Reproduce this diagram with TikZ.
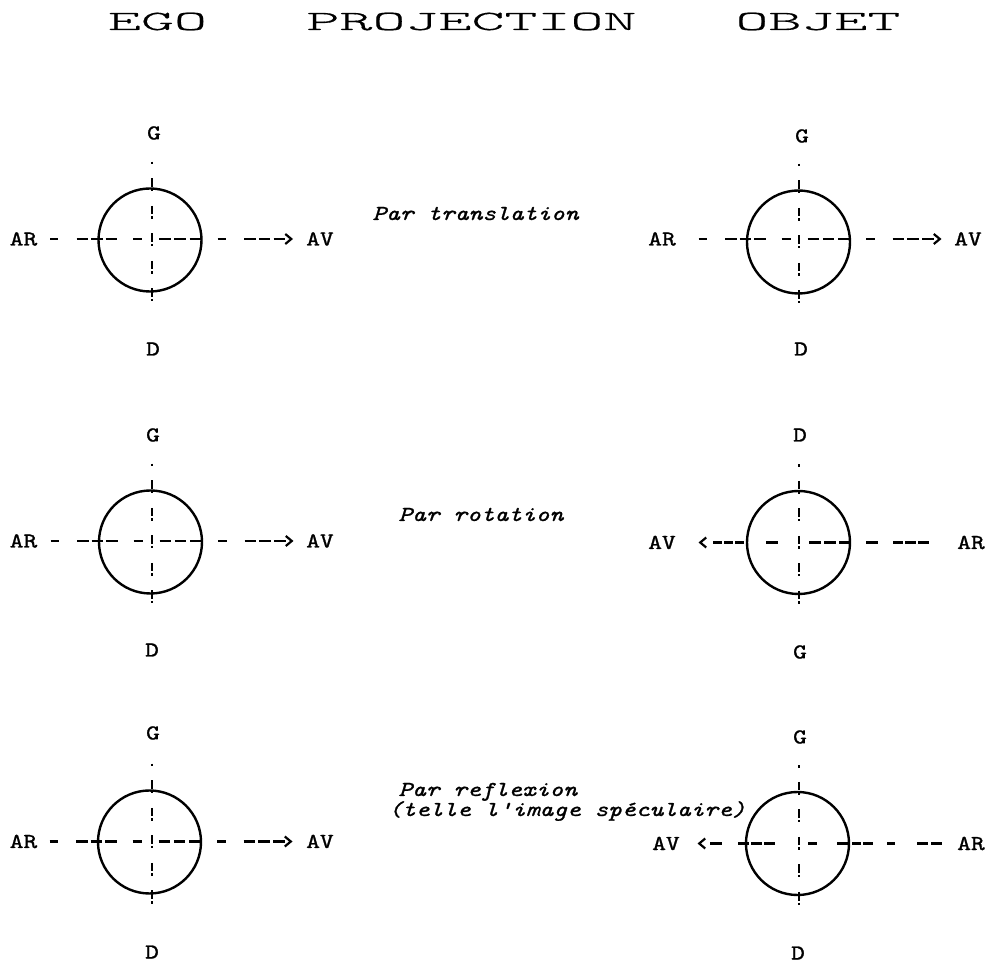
\documentclass[tikz,border=0pt]{standalone}
\usepackage{fontspec}
\usetikzlibrary{arrows.meta}
% typewriter faces: Latin Modern Mono, widened to a square typewriter cell and darkened like a ribbon print
\newfontfamily\typewriter[Extension=.otf, UprightFont=*-regular, ItalicFont=*-italic, FakeStretch=1.23, FakeBold=1.1]{lmmono10}
\newfontfamily\headerfont[Extension=.otf, UprightFont=*-regular, FakeStretch=2.26, FakeBold=0.5]{lmmonolt10}

\tikzset{
  ring/.style={circle, draw, line width=1.2pt, minimum size=51.5pt, inner sep=0pt},
  axislabel/.style={font={\typewriter\fontsize{10.64pt}{12pt}\selectfont}, text height=6.5pt, text depth=0pt, inner sep=0pt},
  caption/.style={font={\typewriter\fontsize{10.64pt}{12pt}\selectfont\itshape}, anchor=base west, inner sep=0pt},
  heading/.style={font={\headerfont\fontsize{13.9pt}{16pt}\selectfont}, anchor=base, inner sep=0pt},
  haxis/.style={line width=1.3pt, -{Straight Barb[length=3pt, width=5pt, line width=1.1pt]}},
  % typed hyphens "- --- -!--- - --->"
  fwdrow/.style={dash pattern=on 4pt off 9.25pt on 5.75pt off 1.5pt on 5.75pt off 1.5pt on 5.75pt off 8pt on 4.5pt off 8.5pt on 5.75pt off 1.875pt on 5.75pt off 1.875pt on 5.75pt off 8.25pt on 4.25pt off 9pt on 5.75pt off 1.625pt on 5.75pt off 1.625pt on 5.75pt off 4pt},
  % typed hyphens "<--- - !--- - ---", read from the right
  rotrow/.style={dash pattern=on 5.25pt off 1.125pt on 5.25pt off 1.125pt on 5.25pt off 7.5pt on 6pt off 7.5pt on 6pt off 1.5pt on 6pt off 1.5pt on 6pt off 15.5pt on 6pt off 11pt on 4.5pt off 1pt on 4.5pt off 1pt on 4.5pt off 7pt},
  % typed hyphens "<- --- !- --- - --", read from the right
  refrow/.style={dash pattern=on 5.5pt off 1.5pt on 5.5pt off 11pt on 4pt off 7pt on 4.75pt off 1pt on 4.75pt off 2pt on 5.5pt off 10pt on 4.5pt off 16.5pt on 5.5pt off 1pt on 5.5pt off 1pt on 5.5pt off 8pt on 6pt off 6pt},
  % a typed "." then five "!" one above the other
  vaxis/.style={line width=1.3pt, dash pattern=on 1.25pt off 7.125pt on 4.25pt off 1pt on 1.25pt off 7.25pt on 4.25pt off 1pt on 1.25pt off 7.25pt on 4.25pt off 1pt on 1.25pt off 7.25pt on 4.25pt off 1pt on 1.25pt off 7.25pt on 4.25pt off 1pt on 1.25pt off 7.25pt},
}

\begin{document}
\begin{tikzpicture}[x=0.5pt, y=-0.5pt]
\useasboundingbox (0,0) rectangle (992,962);

% column headings
\node[heading] (hego)  at (157.5,30) {EGO};
\node[heading] (hproj) at (471.5,30) {PROJECTION};
\node[heading] (hobj)  at (818,30)   {OBJET};

% ---------- row 1 : translation ----------
\node[ring] (ringL1) at (150,240) {};
\node[axislabel] (gL1)  at (154,133) {G};
\node[axislabel] (dL1)  at (153,349) {D};
\node[axislabel] (arL1) at (23.5,239) {AR};
\node[axislabel] (avL1) at (320,239) {AV};
\coordinate (hL1a) at (50,239);   \coordinate (hL1b) at (293,239);
\coordinate (vL1a) at (152,161.75); \coordinate (vL1b) at (152,301.5);
\draw[haxis, fwdrow] (hL1a) -- (hL1b);
\draw[vaxis] (vL1a) -- (vL1b);

\node[caption] (ctrans) at (372,220) {Par translation};

\node[ring] (ringR1) at (798.5,242) {};
\node[axislabel] (gR1)  at (802,136) {G};
\node[axislabel] (dR1)  at (801,349) {D};
\node[axislabel] (arR1) at (662,239) {AR};
\node[axislabel] (avR1) at (968,239) {AV};
\coordinate (hR1a) at (698.5,239); \coordinate (hR1b) at (941.5,239);
\coordinate (vR1a) at (799,163.75); \coordinate (vR1b) at (799,303.5);
\draw[haxis, fwdrow] (hR1a) -- (hR1b);
\draw[vaxis] (vR1a) -- (vR1b);

% ---------- row 2 : rotation ----------
\node[ring] (ringL2) at (150.5,542) {};
\node[axislabel] (gL2)  at (153,435) {G};
\node[axislabel] (dL2)  at (152,650) {D};
\node[axislabel] (arL2) at (23.5,541) {AR};
\node[axislabel] (avL2) at (320,541) {AV};
\coordinate (hL2a) at (50.5,541); \coordinate (hL2b) at (293.5,541);
\coordinate (vL2a) at (152,463.75); \coordinate (vL2b) at (152,603.5);
\draw[haxis, fwdrow] (hL2a) -- (hL2b);
\draw[vaxis] (vL2a) -- (vL2b);

\node[caption] (crot) at (398,521) {Par rotation};

\node[ring] (ringR2) at (798.5,542.5) {};
\node[axislabel] (dR2)  at (800,435) {D};
\node[axislabel] (gR2)  at (800,652) {G};
\node[axislabel] (avR2) at (662,542.5) {AV};
\node[axislabel] (arR2) at (971,542.5) {AR};
\coordinate (hR2a) at (928.5,542.5); \coordinate (hR2b) at (698.5,542.5);
\coordinate (vR2a) at (799,464.25); \coordinate (vR2b) at (799,604);
\draw[haxis, rotrow] (hR2a) -- (hR2b);
\draw[vaxis] (vR2a) -- (vR2b);

% ---------- row 3 : reflexion ----------
\node[ring] (ringL3) at (149.5,842) {};
\node[axislabel] (gL3)  at (153,733) {G};
\node[axislabel] (dL3)  at (152,952) {D};
\node[axislabel] (arL3) at (23.5,841.5) {AR};
\node[axislabel] (avL3) at (320,841.5) {AV};
\coordinate (hL3a) at (49.5,841.5); \coordinate (hL3b) at (292.5,841.5);
\coordinate (vL3a) at (152,763.75); \coordinate (vL3b) at (152,903.5);
\draw[haxis, fwdrow] (hL3a) -- (hL3b);
\draw[vaxis] (vL3a) -- (vL3b);

\node[caption] (crefl)  at (398,796) {Par reflexion};
\node[caption] (cspec)  at (388,816) {(telle l'image spéculaire)};

\node[ring] (ringR3) at (797.5,843.5) {};
\node[axislabel] (gR3)  at (800,737) {G};
\node[axislabel] (dR3)  at (798,953) {D};
\node[axislabel] (avR3) at (666,843.5) {AV};
\node[axislabel] (arR3) at (971,843.5) {AR};
\coordinate (hR3a) at (941.5,843.5); \coordinate (hR3b) at (697.5,843.5);
\coordinate (vR3a) at (799,765.25); \coordinate (vR3b) at (799,905);
\draw[haxis, refrow] (hR3a) -- (hR3b);
\draw[vaxis] (vR3a) -- (vR3b);
\end{tikzpicture}
\end{document}
